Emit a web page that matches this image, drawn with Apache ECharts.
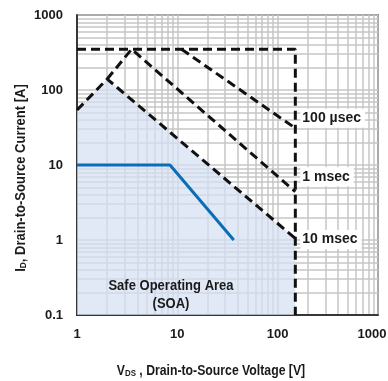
<!DOCTYPE html>
<html>
<head>
<meta charset="utf-8">
<script src="https://cdn.jsdelivr.net/npm/echarts@6/dist/echarts.min.js"></script>
<style>
  html, body { margin: 0; padding: 0; background: #fff; }
  #chart { width: 388px; height: 381px; }
</style>
</head>
<body>
<div id="chart"></div>
<script>
// Safe operating area of the MOSFET (log-log)
const FONT = "'Liberation Sans Narrow', 'Liberation Sans', Arial, sans-serif";

// Package / voltage limit: max pulsed current then the V(BR)DSS wall
const limitBox = [[1, 350], [150, 350], [150, 0.1]];
// Pulse-width boundaries [VDS, ID]
const line10ms = [[1, 54], [2, 140], [150, 1.05]];
const line1ms = [[2, 140], [3.5, 350], [150, 4.4]];
const line100us = [[11, 350], [150, 31]];
// DC operating curve
const dcCurve = [[1, 10], [8.45, 10], [36.5, 1]];
// Shaded safe area under the 10 ms boundary
const soaArea = [[1, 54], [2, 140], [150, 1.05], [150, 0.1]];

const pulseLabels = ['100 µsec', '1 msec', '10 msec'];

// Minor grid values (2..9 within each decade)
const xDecades = [1, 10, 100];
const yDecades = [0.1, 1, 10, 100];
const minorSteps = [2, 3, 4, 5, 6, 7, 8, 9];
const xGridVals = [];
xDecades.forEach(d => minorSteps.forEach(m => xGridVals.push(+(d * m).toPrecision(3))));
const yGridVals = [];
yDecades.forEach(d => minorSteps.forEach(m => yGridVals.push(+(d * m).toPrecision(3))));

const gridColor = '#c6c6c6';
const dashStyle = { color: '#111', width: 3, type: [9, 5], cap: 'butt' };

const chart = echarts.init(document.getElementById('chart'), null, { renderer: 'canvas' });

function pulseLabel(text, dy) {
  return {
    show: true,
    formatter: text,
    distance: 5,
    offset: [0, dy],
    color: '#1a1a1a',
    fontFamily: FONT,
    fontWeight: 'bold',
    fontSize: 14,
    backgroundColor: '#fff',
    padding: [3, 4, 2, 2]
  };
}

const richTitle = {
  m: { fontFamily: FONT, fontWeight: 'bold', fontSize: 14, fill: '#1a1a1a', lineHeight: 16, verticalAlign: 'bottom' },
  s: { fontFamily: FONT, fontWeight: 'bold', fontSize: 9, fill: '#1a1a1a', lineHeight: 12, verticalAlign: 'bottom' }
};

const tickFont = { color: '#1a1a1a', fontWeight: 'bold', fontSize: 13, fontFamily: FONT };

chart.setOption({
  animation: false,
  textStyle: { fontFamily: FONT },
  grid: {
    left: 77, right: 10, top: 15, bottom: 66,
    outerBoundsMode: 'none', containLabel: false,
    show: true, borderColor: '#222', borderWidth: 1.5, backgroundColor: '#fff'
  },
  xAxis: {
    type: 'log', logBase: 10, min: 1, max: 1000,
    axisLine: { show: true, lineStyle: { color: '#111', width: 1.5 } },
    axisTick: { show: false },
    splitLine: { show: true, lineStyle: { color: gridColor, width: 1.5 } },
    axisLabel: Object.assign({ margin: 13,
      // keep the last label inside the canvas
      formatter: v => (v >= 1000 ? '{last|' + v + '}' : String(v)),
      rich: { last: Object.assign({ padding: [0, 12, 0, 0] }, tickFont) }
    }, tickFont)
  },
  yAxis: {
    type: 'log', logBase: 10, min: 0.1, max: 1000,
    axisLine: { show: true, lineStyle: { color: '#111', width: 1.5 } },
    axisTick: { show: false },
    splitLine: { show: true, lineStyle: { color: gridColor, width: 1.5 } },
    axisLabel: Object.assign({ margin: 14,
      formatter: v => (v < 1 ? v.toFixed(1) : String(Math.round(v))) }, tickFont)
  },
  series: [
    {
      // minor grid
      type: 'line', z: 0, data: [[1, 0.1]], showSymbol: false, silent: true,
      lineStyle: { opacity: 0 },
      markLine: {
        z: 0,
        silent: true, symbol: ['none', 'none'], label: { show: false },
        lineStyle: { color: gridColor, width: 1.5, type: 'solid' },
        emphasis: { disabled: true },
        data: xGridVals.map(v => ({ xAxis: v })).concat(yGridVals.map(v => ({ yAxis: v })))
      }
    },
    {
      type: 'line', z: 1, data: soaArea, showSymbol: false, silent: true,
      lineStyle: { width: 0 },
      areaStyle: { origin: 'start', color: '#d6dff3', opacity: 0.72 }
    },
    {
      type: 'line', z: 3, data: limitBox, showSymbol: false, lineStyle: dashStyle
    },
    {
      type: 'line', z: 3, data: line100us, showSymbol: false, lineStyle: dashStyle,
      endLabel: pulseLabel(pulseLabels[0], -10)
    },
    {
      type: 'line', z: 3, data: line1ms, showSymbol: false, lineStyle: dashStyle,
      endLabel: pulseLabel(pulseLabels[1], -15)
    },
    {
      type: 'line', z: 3, data: line10ms, showSymbol: false, lineStyle: dashStyle,
      endLabel: pulseLabel(pulseLabels[2], 1)
    },
    {
      type: 'line', z: 4, data: dcCurve, showSymbol: false,
      lineStyle: { color: '#0a6db5', width: 3 }
    }
  ],
  graphic: [
    {
      type: 'text', x: 171, y: 295, z: 10, scaleX: 0.93,
      style: {
        text: 'Safe Operating Area\n(SOA)',
        align: 'center', verticalAlign: 'middle',
        font: 'bold 14px ' + FONT, fill: '#1a1a1a', lineHeight: 18
      }
    },
    {
      type: 'text', x: 20, y: 178, rotation: Math.PI / 2, scaleX: 0.93, z: 10,
      style: {
        text: '{m|I}{s|D}{m|, Drain-to-Source Current [A]}',
        align: 'center', verticalAlign: 'middle',
        rich: richTitle
      }
    },
    {
      type: 'text', x: 211, y: 370, scaleX: 0.875, z: 10,
      style: {
        text: '{m|V}{s|DS}{m| , Drain-to-Source Voltage [V]}',
        align: 'center', verticalAlign: 'middle',
        rich: richTitle
      }
    }
  ]
});
</script>
</body>
</html>
